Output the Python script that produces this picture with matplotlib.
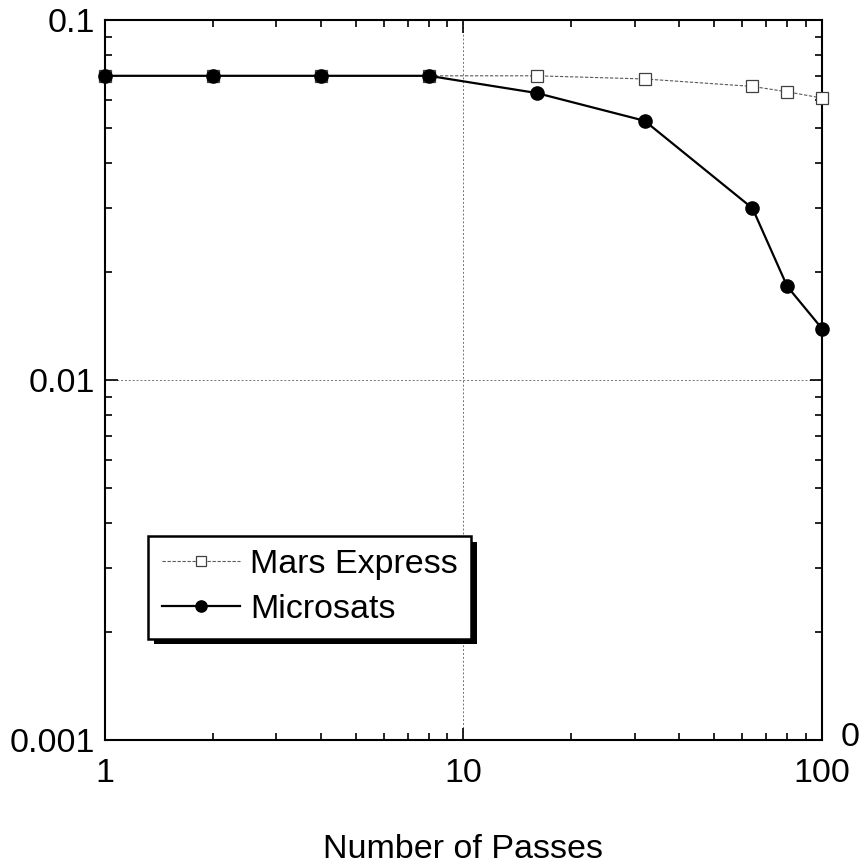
import matplotlib
matplotlib.use("Agg")
import matplotlib.pyplot as plt
from matplotlib.patches import Rectangle
from matplotlib.ticker import LogLocator, FixedFormatter, FixedLocator, NullFormatter

plt.rcParams['font.family'] = ['Liberation Sans', 'DejaVu Sans']

passes = [1, 2, 4, 8, 16, 32, 64, 80, 100]
mars_express = [0.070, 0.070, 0.070, 0.070, 0.070, 0.0686, 0.0654, 0.0632, 0.0607]
microsats = [0.070, 0.070, 0.070, 0.070, 0.0627, 0.0525, 0.030, 0.0182, 0.0139]

x_ticks = [1, 10, 100]
x_labels = ['1', '10', '100']
y_ticks = [0.001, 0.01, 0.1]
y_labels = ['0.001', '0.01', '0.1']

FS = 24.5

fig = plt.figure(figsize=(8.59, 8.64), dpi=100)
ax = fig.add_axes([0.1222, 0.1435, 0.8347, 0.8333])

ax.plot(passes, mars_express, color='0.35', lw=0.8, ls=(0, (3, 1.5)),
        marker='s', ms=8, mfc='white', mec='0.25', mew=0.9,
        label='Mars Express', clip_on=False, zorder=3)
ax.plot(passes, microsats, color='black', lw=1.6,
        marker='o', ms=9.5, mfc='black', mec='black',
        label='Microsats', clip_on=False, zorder=3)

ax.set_xscale('log')
ax.set_yscale('log')
ax.set_xlim(1, 100)
ax.set_ylim(0.001, 0.1)

ax.xaxis.set_major_locator(FixedLocator(x_ticks))
ax.xaxis.set_major_formatter(FixedFormatter(x_labels))
ax.yaxis.set_major_locator(FixedLocator(y_ticks))
ax.yaxis.set_major_formatter(FixedFormatter(y_labels))
ax.xaxis.set_minor_locator(LogLocator(base=10, subs=range(2, 10)))
ax.yaxis.set_minor_locator(LogLocator(base=10, subs=range(2, 10)))
ax.xaxis.set_minor_formatter(NullFormatter())
ax.yaxis.set_minor_formatter(NullFormatter())

ax.tick_params(which='both', direction='in', top=True, right=True,
               labelsize=FS, width=1.2)
ax.tick_params(which='major', length=9)
ax.tick_params(which='minor', length=5)
ax.tick_params(axis='x', which='major', pad=13)
ax.tick_params(axis='y', which='major', pad=7)

for sp in ax.spines.values():
    sp.set_linewidth(1.5)

ax.grid(True, which='major', color='0.45', lw=0.7, ls=(0, (2, 2)))

ax.set_xlabel('Number of Passes', fontsize=FS)
ax.xaxis.set_label_coords(0.5, -0.13)

leg = ax.legend(loc='lower left', bbox_to_anchor=(0.06, 0.141), borderaxespad=0,
                fontsize=FS, frameon=True, fancybox=False, handlelength=2.3,
                handletextpad=0.3, borderpad=0.4, labelspacing=0.4,
                markerscale=0.85, framealpha=1)
leg.get_frame().set_facecolor('white')
leg.get_frame().set_edgecolor('black')
leg.get_frame().set_linewidth(1.8)
leg.set_zorder(5)

# solid drop shadow under the legend box
fig.canvas.draw()
bb = leg.get_window_extent().transformed(ax.transAxes.inverted())
dx, dy = 6 / 717, 6 / 720
ax.add_patch(Rectangle((bb.x0 + dx, bb.y0 - dy), bb.width, bb.height,
                       transform=ax.transAxes, facecolor='black',
                       edgecolor='none', zorder=4, clip_on=False))

# neighbouring panel's axis label, cut by the page edge
fig.text(841 / 859, 1 - 737 / 864, '0', fontsize=FS, va='center', ha='left')

fig.savefig('out.png', dpi=100)
